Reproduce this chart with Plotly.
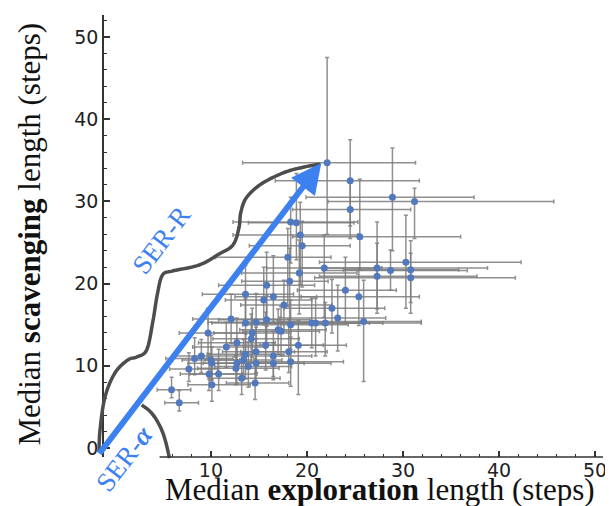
import plotly.graph_objects as go

# ---- data ----
explore = [22.1, 24.5, 28.9, 31.2, 24.5, 18.3, 18.9, 19.3, 19.5, 25.5,
           18.0, 19.2, 18.2, 21.8, 27.3, 27.3, 28.7, 30.3, 30.8, 30.8,
           15.8, 24.0, 25.4, 13.6, 15.5, 16.5, 17.6, 22.6, 23.2, 25.9,
           20.5, 20.9, 21.9, 18.3, 17.3, 12.1, 13.6, 14.7, 15.8, 9.7,
           14.3, 17.0, 12.7, 11.6, 14.2, 15.7, 16.5, 18.1, 19.1, 14.7,
           13.6, 8.3, 9.0, 10.0, 10.1, 7.7, 9.8, 10.8, 12.6, 13.9,
           14.7, 13.4, 18.3, 16.5, 10.1, 13.2, 14.6, 5.9, 6.7, 12.7]
scavenge = [34.7, 32.5, 30.5, 30.0, 29.0, 27.5, 27.4, 25.9, 24.6, 25.7,
            23.2, 21.3, 20.3, 21.9, 21.9, 20.9, 21.6, 22.6, 21.7, 20.7,
            19.8, 19.2, 18.4, 18.7, 18.0, 18.4, 17.4, 17.0, 15.8, 15.4,
            15.2, 15.2, 15.2, 15.0, 14.2, 15.7, 15.2, 15.3, 15.6, 14.0,
            14.0, 14.4, 12.8, 12.3, 13.3, 12.5, 11.2, 11.7, 12.5, 11.7,
            11.4, 10.9, 11.2, 10.7, 10.3, 9.6, 9.0, 9.0, 9.7, 9.9,
            10.3, 10.7, 10.5, 10.3, 7.7, 8.5, 7.9, 7.1, 5.5, 10.3]
explore_lo = [8.8, 7.8, 9.0, 9.0, 6.0, 6.0, 5.0, 7.0, 5.5, 7.0,
              7.5, 6.0, 5.0, 6.0, 8.0, 6.0, 7.0, 9.0, 7.0, 10.0,
              5.0, 5.0, 6.0, 4.5, 4.0, 4.0, 4.5, 5.0, 6.0, 9.0,
              7.0, 6.0, 7.0, 5.0, 4.0, 4.0, 3.5, 5.0, 5.0, 3.0,
              4.0, 4.0, 4.0, 3.5, 4.0, 4.0, 4.0, 5.0, 4.0, 3.5,
              4.0, 3.0, 3.0, 3.0, 2.5, 2.0, 3.0, 3.0, 4.0, 3.5,
              4.0, 4.0, 5.0, 4.0, 2.5, 3.5, 3.0, 1.5, 1.5, 3.5]
explore_hi = [9.2, 7.2, 8.5, 14.5, 6.3, 7.0, 6.0, 6.0, 5.0, 10.5,
              4.5, 6.0, 4.0, 6.0, 11.5, 10.4, 8.0, 12.0, 5.0, 10.9,
              5.0, 5.3, 6.3, 5.0, 5.0, 4.5, 5.0, 5.5, 5.0, 6.0,
              6.0, 7.0, 10.0, 6.0, 4.0, 5.0, 4.0, 4.0, 4.5, 4.0,
              4.0, 5.0, 4.0, 4.0, 5.0, 6.0, 4.0, 4.0, 5.0, 4.0,
              4.0, 4.0, 3.5, 3.0, 4.0, 3.0, 3.5, 4.0, 4.5, 4.5,
              5.0, 4.0, 5.5, 6.0, 4.0, 4.0, 3.5, 2.0, 2.0, 4.0]
scavenge_lo = [8.7, 5.5, 6.5, 4.5, 3.5, 5.0, 4.5, 6.0, 5.0, 4.0,
               6.0, 5.0, 5.0, 6.0, 5.5, 4.0, 2.4, 5.6, 4.0, 4.3,
               5.0, 4.0, 3.5, 3.5, 3.0, 3.0, 3.0, 3.0, 4.0, 7.3,
               3.0, 4.0, 4.0, 3.0, 3.0, 3.0, 4.0, 3.0, 3.0, 3.0,
               3.0, 3.0, 2.5, 2.5, 3.0, 3.0, 2.5, 2.5, 6.0, 2.5,
               3.0, 2.0, 2.0, 2.5, 2.0, 1.5, 2.0, 2.0, 2.0, 2.5,
               2.5, 2.0, 3.0, 2.0, 2.0, 2.0, 2.0, 1.0, 1.0, 2.5]
scavenge_hi = [12.8, 5.0, 6.0, 1.6, 3.5, 3.0, 6.0, 4.0, 3.0, 7.0,
               3.5, 4.0, 4.0, 4.0, 5.6, 4.0, 2.5, 5.7, 3.5, 3.0,
               4.0, 4.0, 3.5, 3.5, 4.0, 5.0, 3.0, 3.5, 4.0, 5.0,
               3.0, 3.0, 2.5, 3.0, 3.0, 3.0, 3.0, 3.5, 3.0, 3.0,
               3.0, 2.5, 3.0, 3.0, 3.0, 4.0, 3.0, 4.0, 3.0, 3.0,
               2.5, 2.5, 2.0, 3.0, 2.0, 2.0, 2.5, 3.0, 3.0, 3.0,
               3.0, 2.5, 3.0, 2.5, 2.5, 3.0, 3.0, 1.5, 1.5, 3.0]

x_ticks = [10, 20, 30, 40, 50]
x_minor = [6, 8, 12, 14, 16, 18, 22, 24, 26, 28, 32, 34, 36, 38, 42, 44, 46, 48, 50]
y_ticks = [0, 10, 20, 30, 40, 50]

# ---- geometry helpers (decoration only); page pixel coords, page body has 8px margin ----
OFF = 8
W, H = 613 - OFF, 506 - OFF
L, R, T, B = 104, 607, 15, 457   # plot area in page pixels

def px2paper(px, py):
    return (px - L) / (R - L), (B - py) / (B - T)

def smooth_path(pts, n=12):
    pp = [pts[0]] + pts + [pts[-1]]
    out = []
    for i in range(1, len(pp) - 2):
        p0, p1, p2, p3 = pp[i - 1], pp[i], pp[i + 1], pp[i + 2]
        for k in range(n):
            t = k / n
            t2, t3 = t * t, t * t * t
            x = 0.5 * (2 * p1[0] + (-p0[0] + p2[0]) * t + (2 * p0[0] - 5 * p1[0] + 4 * p2[0] - p3[0]) * t2 + (-p0[0] + 3 * p1[0] - 3 * p2[0] + p3[0]) * t3)
            y = 0.5 * (2 * p1[1] + (-p0[1] + p2[1]) * t + (2 * p0[1] - 5 * p1[1] + 4 * p2[1] - p3[1]) * t2 + (-p0[1] + 3 * p1[1] - 3 * p2[1] + p3[1]) * t3)
            out.append((x, y))
    out.append(pts[-1])
    s = ""
    for i, (x, y) in enumerate(out):
        a, b = px2paper(x, y)
        s += ("M" if i == 0 else " L") + f"{a:.4f},{b:.4f}"
    return s

curve_r = [(99, 452), (100, 430), (105, 397), (115, 373), (128, 360), (137, 357), (147, 350),
           (153, 323), (158, 293), (163, 275), (173, 271), (200, 265), (220, 254), (234, 245),
           (240, 228), (242, 212), (248, 197), (264, 183), (287, 172), (306, 167), (322, 164)]
curve_a = [(142, 405), (150, 411), (157, 420), (163, 432), (167, 445), (170, 458)]

fig = go.Figure()
fig.add_trace(go.Scatter(
    x=explore, y=scavenge, mode="markers",
    marker=dict(color="#5279bd", size=7),
    error_x=dict(type="data", symmetric=False, array=explore_hi, arrayminus=explore_lo,
                 color="rgba(125,125,125,0.85)", thickness=1.5, width=2),
    error_y=dict(type="data", symmetric=False, array=scavenge_hi, arrayminus=scavenge_lo,
                 color="rgba(125,125,125,0.85)", thickness=1.5, width=2),
    showlegend=False, hoverinfo="x+y"))

shapes = [
    dict(type="path", xref="paper", yref="paper", path=smooth_path(curve_r),
         line=dict(color="#4d4d4d", width=3.5)),
    dict(type="path", xref="paper", yref="paper", path=smooth_path(curve_a),
         line=dict(color="#4d4d4d", width=3.5)),
    dict(type="line", xref="paper", yref="paper",
         x0=px2paper(160, 0)[0], x1=1.0, y0=0, y1=0,
         line=dict(color="#333", width=1.5)),
]

serif = "Liberation Serif, Times New Roman, serif"
ta, tb = px2paper(323, 163)
sr = px2paper(162, 240)
sa = px2paper(125, 458)
annotations = [
    dict(xref="paper", yref="paper", x=ta, y=tb, ax=-223, ay=292, text="",
         showarrow=True, arrowhead=2, arrowsize=1.0, arrowwidth=6,
         arrowcolor="#3d80f0", standoff=0, startstandoff=0),
    dict(xref="paper", yref="paper", x=sr[0], y=sr[1], xanchor="center", yanchor="middle",
         text="SER-R", textangle=-52.6, showarrow=False,
         font=dict(family=serif, size=27, color="#3d80f0")),
    dict(xref="paper", yref="paper", x=sa[0], y=sa[1], xanchor="center", yanchor="middle",
         text="SER-<b><i>α</i></b>", textangle=-52.6, showarrow=False,
         font=dict(family=serif, size=27, color="#3d80f0")),
    dict(xref="paper", yref="paper", x=px2paper(28, 0)[0], y=px2paper(0, 234)[1],
         xanchor="center", yanchor="middle",
         text="Median <b>scavenging</b> length (steps)", textangle=-90, showarrow=False,
         font=dict(family=serif, size=31, color="#111")),
    dict(xref="paper", yref="paper", x=px2paper(382, 0)[0], y=px2paper(0, 489)[1],
         xanchor="center", yanchor="middle",
         text="Median <b>exploration</b> length (steps)", showarrow=False,
         font=dict(family=serif, size=31, color="#111")),
]

fig.update_layout(
    width=W, height=H,
    margin=dict(l=L - OFF, r=613 - R, t=T - OFF, b=506 - B, pad=0),
    plot_bgcolor="white", paper_bgcolor="white",
    shapes=shapes, annotations=annotations,
    xaxis=dict(range=[(L - 115) / 9.68, (R - 115) / 9.68], showgrid=False, zeroline=False,
               showline=False, tickmode="array", tickvals=x_ticks,
               ticktext=[str(v) for v in x_ticks], ticks="inside", ticklen=6,
               tickwidth=1.5, tickcolor="#333",
               minor=dict(tickmode="array", tickvals=x_minor, ticks="inside", ticklen=3,
                          tickwidth=1.2, tickcolor="#333"),
               tickfont=dict(family="DejaVu Sans, sans-serif", size=19, color="#222")),
    yaxis=dict(range=[(448 - B) / 8.22, (448 - T) / 8.22], showgrid=False, zeroline=False,
               showline=True, linecolor="#333", linewidth=1.5,
               tickmode="array", tickvals=y_ticks, ticktext=[str(v) for v in y_ticks],
               ticks="inside", ticklen=6, tickwidth=1.5, tickcolor="#333",
               minor=dict(dtick=2, tick0=0, ticks="inside", ticklen=3, tickwidth=1.2,
                          tickcolor="#333"),
               tickfont=dict(family="DejaVu Sans, sans-serif", size=19, color="#222")),
)

fig.write_html("out.html")
